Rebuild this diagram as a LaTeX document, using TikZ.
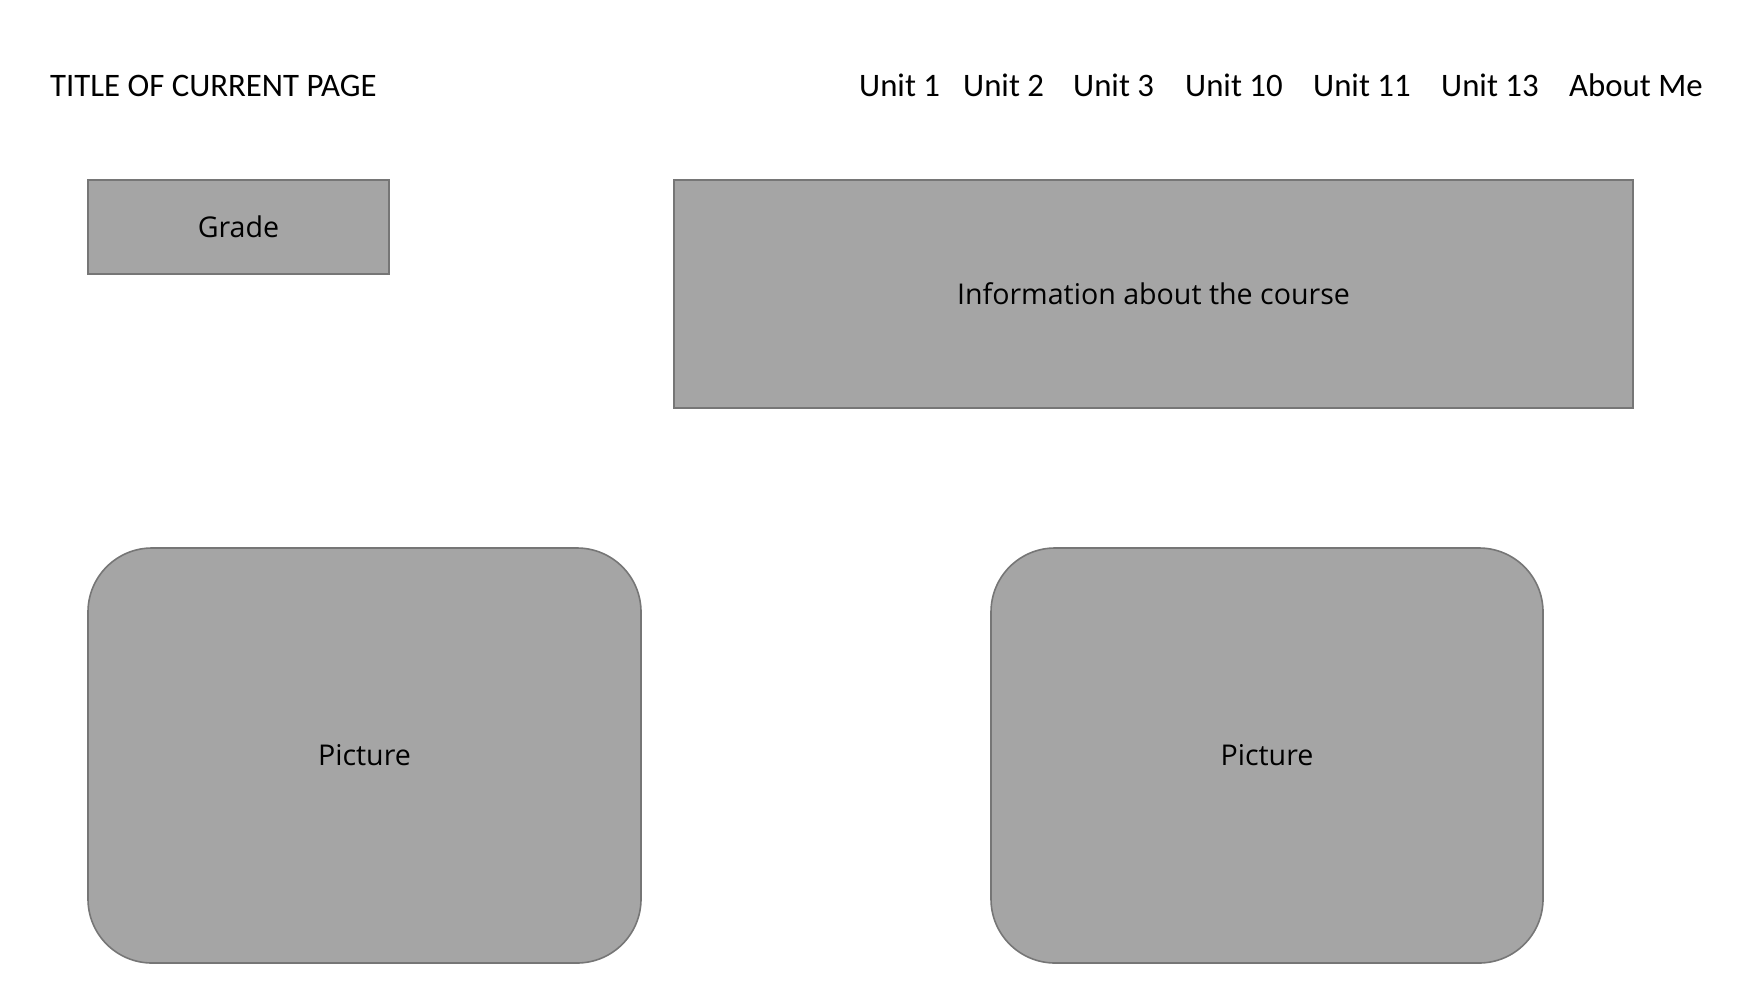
\documentclass[tikz,border=0pt]{standalone}
\usepackage{fontspec}
\setmainfont{Carlito}
\newfontfamily\boxfont{Open Sans}
\definecolor{boxfill}{HTML}{A5A5A5}
\definecolor{boxline}{HTML}{767676}
\begin{document}
\begin{tikzpicture}[x=1pt,y=-1pt,
  panel/.style={draw=boxline,fill=boxfill,line width=1.6pt,inner sep=0pt,
    font=\boxfont\fontsize{28.6}{34}\selectfont,text=black},
  pic/.style={panel,rounded corners=64pt},
  navtext/.style={anchor=base west,inner sep=0pt,font=\fontsize{32.8}{40}\selectfont}]
\useasboundingbox (0,0) rectangle (1753,983);
\node[navtext] (title) at (50,96) {TITLE OF CURRENT PAGE};
\node[navtext] (u1) at (859,96) {Unit 1};
\node[navtext] (u2) at (963,96) {Unit 2};
\node[navtext] (u3) at (1073,96) {Unit 3};
\node[navtext] (u10) at (1185,96) {Unit 10};
\node[navtext] (u11) at (1313,96) {Unit 11};
\node[navtext] (u13) at (1441,96) {Unit 13};
\node[navtext] (about) at (1569,96) {About Me};
\node[panel,minimum width=301pt,minimum height=94pt] (grade) at (238.5,227) {Grade};
\node[panel,minimum width=959pt,minimum height=228pt] (info) at (1153.5,294) {Information about the course};
\node[pic,minimum width=553pt,minimum height=415pt] (pic1) at (364.5,755.5) {Picture};
\node[pic,minimum width=552pt,minimum height=415pt] (pic2) at (1267,755.5) {Picture};
\end{tikzpicture}
\end{document}
